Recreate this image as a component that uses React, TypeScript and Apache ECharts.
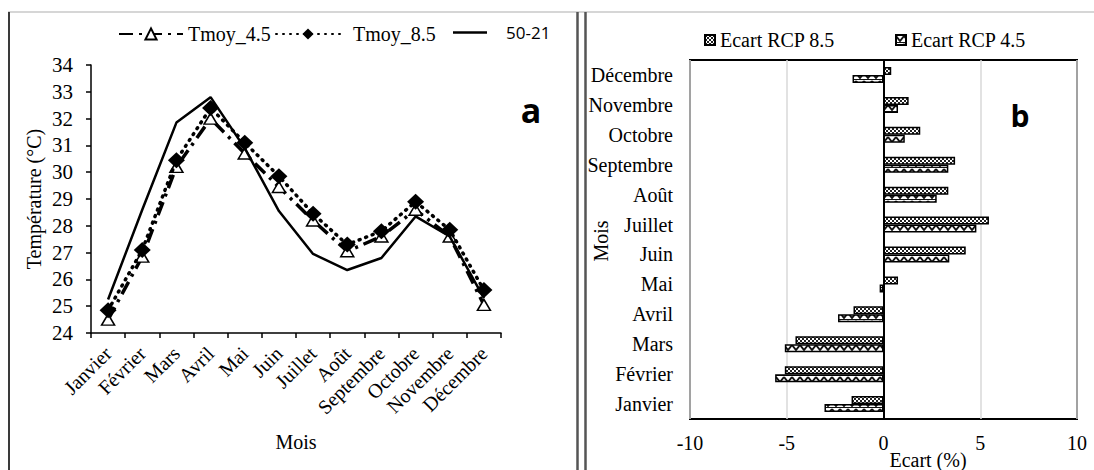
import React, { useEffect, useRef } from 'react';
import * as echarts from 'echarts';

const months = ['Janvier', 'Février', 'Mars', 'Avril', 'Mai', 'Juin', 'Juillet', 'Août', 'Septembre', 'Octobre', 'Novembre', 'Décembre'];
const tmoy45 = [24.5, 26.85, 30.2, 32.0, 30.7, 29.45, 28.2, 27.05, 27.6, 28.6, 27.6, 25.05];
const tmoy85 = [24.85, 27.1, 30.45, 32.4, 31.1, 29.85, 28.45, 27.3, 27.8, 28.9, 27.85, 25.6];
const ref5021 = [25.25, 28.6, 31.85, 32.8, 30.9, 28.55, 26.95, 26.35, 26.8, 28.35, 27.6, 25.3];
const tempMin = 24;
const tempMax = 34;
const tempStep = 1;

const ecart85 = [-1.65, -5.1, -4.55, -1.55, 0.75, 4.25, 5.45, 3.35, 3.7, 1.9, 1.3, 0.4];
const ecart45 = [-3.05, -5.6, -5.1, -2.35, -0.2, 3.4, 4.8, 2.75, 3.35, 1.1, 0.75, -1.6];
const ecartMin = -10;
const ecartMax = 10;
const ecartStep = 5;

const SERIF = 'Liberation Serif';
const SANS = 'Open Sans';

function makeChecker() {
  const c = document.createElement('canvas');
  c.width = 4; c.height = 4;
  const ctx = c.getContext('2d')!;
  ctx.fillStyle = '#fff'; ctx.fillRect(0, 0, 4, 4);
  ctx.fillStyle = '#222';
  ctx.fillRect(0, 0, 2, 2); ctx.fillRect(2, 2, 2, 2);
  return c;
}
function makeZigzag() {
  const c = document.createElement('canvas');
  c.width = 8; c.height = 8;
  const ctx = c.getContext('2d')!;
  ctx.fillStyle = '#fff'; ctx.fillRect(0, 0, 8, 8);
  ctx.strokeStyle = '#111'; ctx.lineWidth = 2;
  ctx.beginPath(); ctx.moveTo(0, 1); ctx.lineTo(4, 6); ctx.lineTo(8, 1); ctx.stroke();
  ctx.fillStyle = '#111'; ctx.fillRect(0, 7, 8, 1);
  return c;
}

export default function App() {
  const ref = useRef<HTMLDivElement>(null);
  useEffect(() => {
    if (!ref.current) return;
    const chart = echarts.init(ref.current, undefined, { renderer: 'svg' });
    const checker = makeChecker();
    const zig = makeZigzag();
    const lab = { fontFamily: SERIF, fontSize: 20, color: '#000' };
    const legendText = { fontFamily: SERIF, fontSize: 20, color: '#000' };
    chart.setOption({
      animation: false,
      backgroundColor: '#fff',
      legend: [
        { left: 118, top: 24, itemWidth: 64, itemHeight: 14, data: ['Tmoy_4.5'], textStyle: legendText, padding: 0 },
        { left: 275, top: 24, itemWidth: 64, itemHeight: 14, data: ['Tmoy_8.5'], textStyle: { ...legendText, padding: [0, 0, 0, 8] }, padding: 0 },
        { left: 453, top: 24, itemWidth: 34, itemHeight: 14, data: [{ name: '50-21', icon: 'path://M0,0L40,0L40,3L0,3Z' }], textStyle: { fontFamily: SANS, fontSize: 17, color: '#000', padding: [0, 0, 0, 14] }, padding: 0 },
        { left: 704, top: 30, itemWidth: 10, itemHeight: 10, icon: 'rect', data: ['Ecart RCP 8.5'], textStyle: legendText, padding: 0 },
        { left: 895, top: 30, itemWidth: 10, itemHeight: 10, icon: 'rect', data: ['Ecart RCP 4.5'], textStyle: legendText, padding: 0 },
      ],
      grid: [
        { left: 91, right: 593, top: 65, bottom: 137 },
        { left: 690, right: 17, top: 60, bottom: 51, show: true, borderColor: '#000', borderWidth: 2, backgroundColor: 'transparent' },
      ],
      xAxis: [
        {
          gridIndex: 0, type: 'category', data: months, boundaryGap: true,
          axisLine: { lineStyle: { color: '#000', width: 1.5 } },
          axisTick: { show: true, length: 5, lineStyle: { color: '#000', width: 1.5 } },
          axisLabel: { ...lab, rotate: 45, margin: 17, interval: 0 },
        },
        {
          gridIndex: 1, type: 'value', min: ecartMin, max: ecartMax, interval: ecartStep,
          axisLine: { show: false }, axisTick: { show: false },
          axisLabel: { ...lab, margin: 14 },
          splitLine: { show: true, lineStyle: { color: '#d9d9d9', width: 1.5 } },
        },
      ],
      yAxis: [
        {
          gridIndex: 0, type: 'value', min: tempMin, max: tempMax, interval: tempStep,
          axisLine: { show: true, lineStyle: { color: '#000', width: 1.5 } },
          axisTick: { show: true, length: 5, lineStyle: { color: '#000', width: 1.5 } },
          axisLabel: { ...lab, fontSize: 21, margin: 18 },
          splitLine: { show: false },
        },
        {
          gridIndex: 1, type: 'category', data: months,
          axisLine: { show: false, onZero: false }, axisTick: { show: false },
          axisLabel: { ...lab, margin: 17, interval: 0 },
        },
      ],
      series: [
        {
          name: 'Tmoy_4.5', type: 'line', xAxisIndex: 0, yAxisIndex: 0, data: tmoy45,
          symbol: 'triangle', symbolSize: [13, 11],
          itemStyle: { color: '#fff', borderColor: '#000', borderWidth: 1.5 },
          lineStyle: { color: '#000', width: 3.5, type: [14, 6, 3, 6] },
          z: 3,
        },
        {
          name: 'Tmoy_8.5', type: 'line', xAxisIndex: 0, yAxisIndex: 0, data: tmoy85,
          symbol: 'diamond', symbolSize: [17, 16],
          itemStyle: { color: '#000', borderColor: '#000', borderWidth: 0 },
          lineStyle: { color: '#000', width: 3.5, type: [1, 6], cap: 'round' },
          z: 4,
        },
        {
          name: '50-21', type: 'line', xAxisIndex: 0, yAxisIndex: 0, data: ref5021,
          symbol: 'none', itemStyle: { color: '#000' },
          lineStyle: { color: '#000', width: 2.5 },
          z: 5,
        },
        {
          name: 'Ecart RCP 8.5', type: 'bar', xAxisIndex: 1, yAxisIndex: 1, data: ecart85,
          barWidth: 8, barGap: '0%',
          itemStyle: { color: { image: checker, repeat: 'repeat', imageWidth: 4, imageHeight: 4 }, borderColor: '#000', borderWidth: 1.5 },
          markLine: {
            silent: true, symbol: ['none', 'none'], label: { show: false },
            lineStyle: { color: '#000', type: 'solid', width: 2 },
            data: [{ xAxis: 0 }],
          },
        },
        {
          name: 'Ecart RCP 4.5', type: 'bar', xAxisIndex: 1, yAxisIndex: 1, data: ecart45,
          barWidth: 8, barGap: '0%',
          itemStyle: { color: { image: zig, repeat: 'repeat', imageWidth: 8, imageHeight: 8 }, borderColor: '#000', borderWidth: 1.5 },
        },
      ],
      graphic: [
        { type: 'line', shape: { x1: 8, y1: 12, x2: 1094, y2: 12 }, style: { stroke: '#c8c8c8', lineWidth: 1.5 }, silent: true },
        { type: 'line', shape: { x1: 9, y1: 12, x2: 9, y2: 470 }, style: { stroke: '#3a3a3a', lineWidth: 2 }, silent: true },
        { type: 'line', shape: { x1: 577.5, y1: 12, x2: 577.5, y2: 470 }, style: { stroke: '#555', lineWidth: 2.5 }, silent: true },
        { type: 'line', shape: { x1: 585.5, y1: 12, x2: 585.5, y2: 470 }, style: { stroke: '#555', lineWidth: 2.5 }, silent: true },
        { type: 'text', x: 34, y: 199, rotation: Math.PI / 2, style: { text: 'Température (°C)', fontFamily: SERIF, fontSize: 20, fill: '#000', align: 'center', verticalAlign: 'middle' } },
        { type: 'text', x: 296, y: 442, style: { text: 'Mois', fontFamily: SERIF, fontSize: 20, fill: '#000', align: 'center', verticalAlign: 'middle' } },
        { type: 'text', x: 601, y: 241, rotation: Math.PI / 2, style: { text: 'Mois', fontFamily: SERIF, fontSize: 20, fill: '#000', align: 'center', verticalAlign: 'middle' } },
        { type: 'text', x: 928, y: 460, style: { text: 'Ecart (%)', fontFamily: SERIF, fontSize: 20, fill: '#000', align: 'center', verticalAlign: 'middle' } },
        { type: 'text', x: 531, y: 110, style: { text: 'a', fontFamily: SANS, fontWeight: 'bold', fontSize: 34, fill: '#000', align: 'center', verticalAlign: 'middle' } },
        { type: 'text', x: 1020, y: 115, style: { text: 'b', fontFamily: SANS, fontWeight: 'bold', fontSize: 30, fill: '#000', align: 'center', verticalAlign: 'middle' } },
      ],
    });
    return () => chart.dispose();
  }, []);
  return <div ref={ref} style={{ position: 'absolute', left: 0, top: 0, width: 1094, height: 470 }} />;
}
